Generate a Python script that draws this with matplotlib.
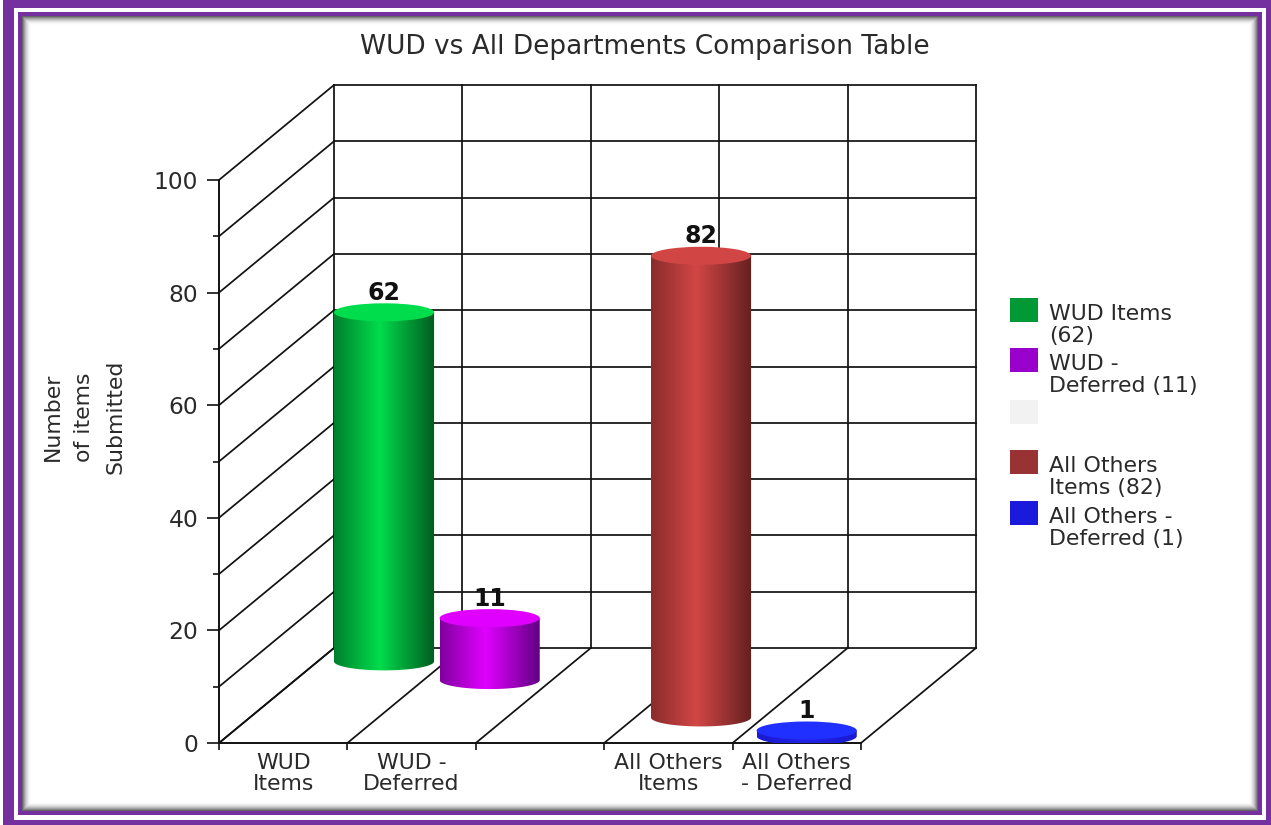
import numpy as np
import matplotlib
matplotlib.use("Agg")
import matplotlib.pyplot as plt
from matplotlib.colors import LinearSegmentedColormap
from matplotlib.patches import Ellipse, Polygon, Rectangle

plt.rcParams["font.family"] = ["DejaVu Sans"]

# chart data
categories = ["WUD\nItems", "WUD -\nDeferred", "", "All Others\nItems", "All Others\n- Deferred"]
values = [62, 11, None, 82, 1]
legend_labels = ["WUD Items\n(62)", "WUD -\nDeferred (11)", "", "All Others\nItems (82)", "All Others -\nDeferred (1)"]
legend_colors = ["#009933", "#9900cc", "#f2f2f2", "#993333", "#1a1add"]
# edge, centre, top colours of each cylinder
edge_left = ["#00802c", "#80009f", None, "#8a2c2c", "#1a1ad0"]
edge_right = ["#005c20", "#5f0080", None, "#652020", "#1a1ad0"]
centre = ["#00dd4c", "#e000ff", None, "#d24646", "#2222e8"]
top_colors = ["#00dd4c", "#e000ff", None, "#d24545", "#2030ff"]

title = "WUD vs All Departments Comparison Table"
ylabel = "Number\nof items\nSubmitted"

W, H = 1271, 825
PURPLE = "#7530a0"
TEXT = "#2a2a2a"

fig = plt.figure(figsize=(W / 100, H / 100), dpi=100, facecolor="white")

# frame and legend layer, in pixels
bg = fig.add_axes([0, 0, 1, 1])
bg.set_xlim(0, W)
bg.set_ylim(H, 0)
bg.axis("off")
bg.add_patch(Rectangle((3, 0), W - 3, H, fc=PURPLE, ec="none"))
bg.add_patch(Rectangle((14, 8), W - 19, H - 13, fc="white", ec="none"))
bg.add_patch(Rectangle((18, 12), W - 27, H - 22, fc=PURPLE, ec="none"))
for i in range(9):
    g = 1 - 0.6 * (1 - i / 9) ** 2
    bg.add_patch(Rectangle((22 + i, 16 + i), 1236 - 2 * i, 795 - 2 * i, fc=(g, g, g), ec="none"))
bg.add_patch(Rectangle((31, 25), 1218, 777, fc="white", ec="none"))

bg.text(645, 47, title, ha="center", va="center", fontsize=19, color=TEXT)
bg.text(84, 417, ylabel, ha="center", va="center", rotation=90, fontsize=15.8,
        color=TEXT, linespacing=1.72)

legend_y = [298, 348, 400, 450, 501]
for label, color, y in zip(legend_labels, legend_colors, legend_y):
    bg.add_patch(Rectangle((1010, y), 28, 24, fc=color, ec="none"))
    bg.text(1049, y + 6, label, ha="left", va="top", fontsize=15.8,
            color=TEXT, linespacing=1.1)

# front plane of the 3d box
left, right, bottom, top = 219, 861, 743, 180
ax = fig.add_axes([left / W, 1 - bottom / H, (right - left) / W, (bottom - top) / H])
ax.patch.set_alpha(0)
ax.set_xlim(0, 5)
ax.set_ylim(0, 100)
for s in ["top", "right"]:
    ax.spines[s].set_visible(False)
for s in ["left", "bottom"]:
    ax.spines[s].set_color("#111111")
    ax.spines[s].set_linewidth(1.4)

ax.set_xticks(range(6))
ax.set_xticklabels([])
ax.set_xticks(np.arange(5) + 0.5, minor=True)
ax.set_xticklabels(categories, minor=True, fontsize=15.8, color=TEXT, linespacing=1.1)
ax.tick_params(axis="x", which="major", length=5, width=1.2, color="#111111")
ax.tick_params(axis="x", which="minor", length=0, pad=7)
ax.set_yticks(range(0, 101, 20))
ax.set_yticks(range(10, 100, 20), minor=True)
ax.tick_params(axis="y", which="major", length=9, width=1.2, color="#111111",
               labelsize=16.8, labelcolor=TEXT, pad=6)
ax.tick_params(axis="y", which="minor", length=4, width=1.2, color="#111111")

# depth of the box in data units
depth_x = 115 / 128.4
depth_y = 95 / 5.63
grid = dict(color="#111111", lw=1.25, clip_on=False, zorder=1)
for v in range(0, 101, 10):
    ax.plot([0, depth_x], [v, v + depth_y], **grid)
    ax.plot([depth_x, 5 + depth_x], [v + depth_y] * 2, **grid)
for k in range(6):
    ax.plot([k, k + depth_x], [0, depth_y], **grid)
    ax.plot([k + depth_x] * 2, [depth_y, 100 + depth_y], **grid)

# cylinders
bar_w = 0.78
cap_h = 3.2
x0, x_step = 1.285, 0.823
y0, y_step = 14.5, -3.32
for i, v in enumerate(values):
    if v is None:
        continue
    cx = x0 + x_step * i
    base = y0 + y_step * i
    t = np.linspace(np.pi, 2 * np.pi, 60)
    ex = cx + bar_w / 2 * np.cos(t)
    ey = cap_h / 2 * np.sin(t)
    outline = np.vstack([
        np.column_stack([ex, base + ey]),
        np.column_stack([ex[::-1], np.full(60, base + v)]),
    ])
    clip = Polygon(outline, closed=True, fc="none", ec="none", transform=ax.transData)
    ax.add_patch(clip)
    cmap = LinearSegmentedColormap.from_list("c", [edge_left[i], centre[i], edge_right[i]])
    grad = np.interp(np.linspace(0, 1, 200), [0, 0.45, 1], [0, 0.5, 1]).reshape(1, -1)
    im = ax.imshow(grad, cmap=cmap, vmin=0, vmax=1, aspect="auto", zorder=3 + i,
                   extent=[cx - bar_w / 2, cx + bar_w / 2, base - cap_h, base + v],
                   interpolation="bilinear")
    im.set_clip_path(clip)
    ax.add_patch(Ellipse((cx, base + v), bar_w, cap_h, fc=top_colors[i], ec="none",
                         zorder=3 + i, clip_on=False))
    ax.annotate(str(v), (cx, base + v + cap_h / 2), xytext=(0, -1), textcoords="offset points",
                ha="center", va="bottom", fontsize=17, fontweight="bold", color="#111111",
                zorder=2, annotation_clip=False)

ax.set_xlim(0, 5)
ax.set_ylim(0, 100)

fig.savefig("out.png", dpi=100)
